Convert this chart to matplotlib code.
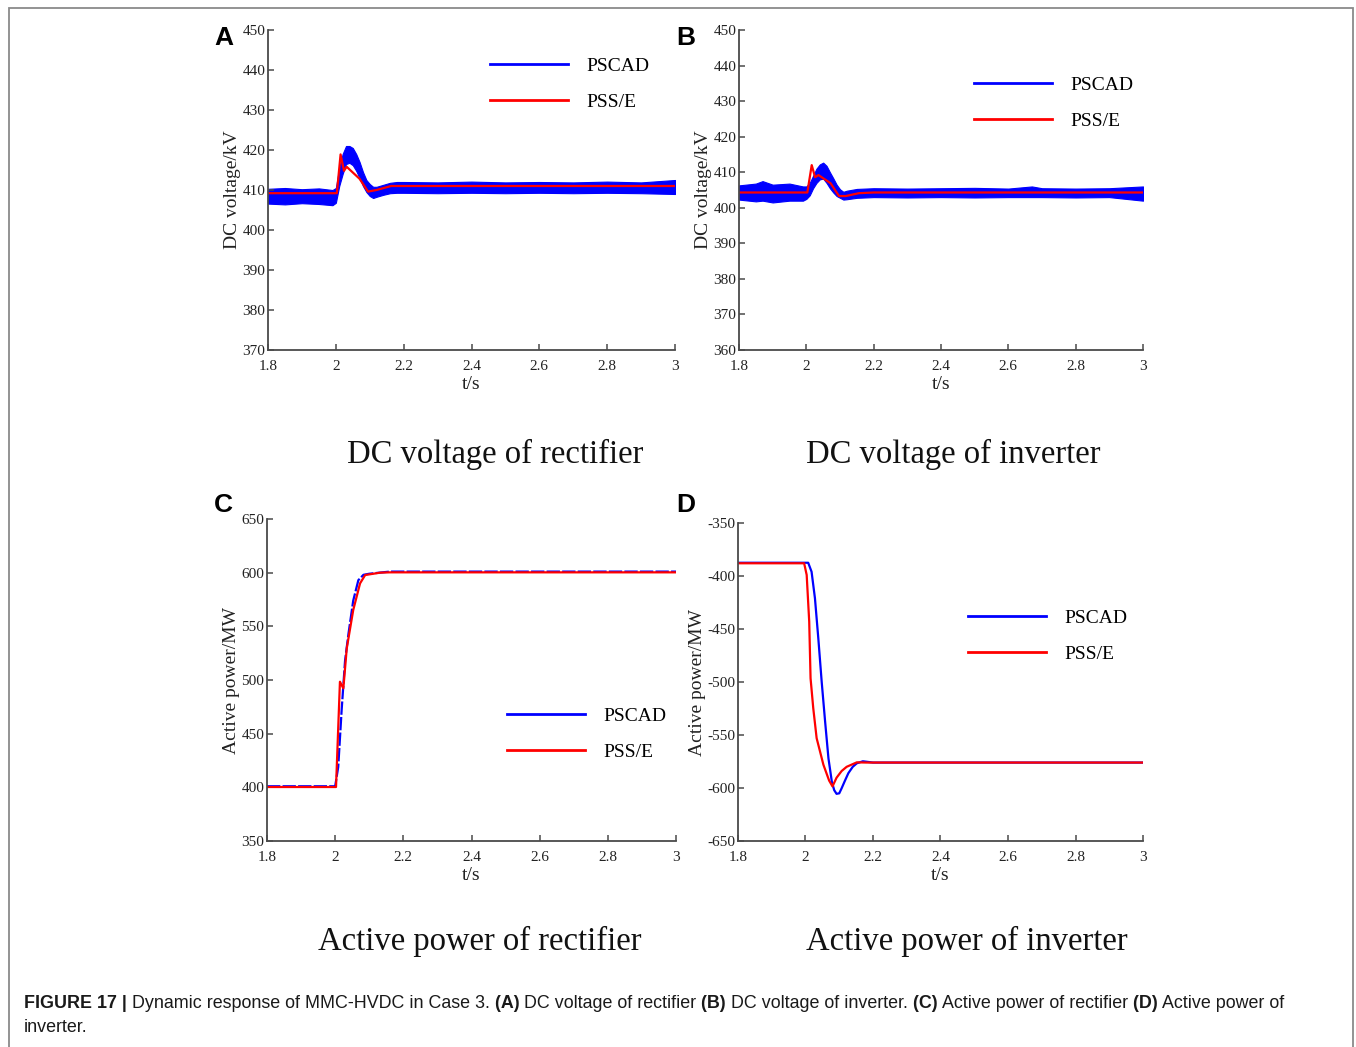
import matplotlib
matplotlib.use('Agg')
import matplotlib.pyplot as plt
from matplotlib.lines import Line2D
from matplotlib.patches import Rectangle

plt.rcParams['font.family'] = 'Liberation Serif'
plt.rcParams['axes.unicode_minus'] = False

# ---- data ----
# (A) DC voltage of rectifier, PSCAD shown as a noisy band (lower / upper envelope)
a_band_t = [1.80, 1.85, 1.90, 1.95, 1.99, 2.00, 2.01, 2.02, 2.03, 2.04, 2.05, 2.06, 2.07,
            2.08, 2.09, 2.10, 2.11, 2.12, 2.14, 2.16, 2.18, 2.20, 2.30, 2.40, 2.50, 2.60,
            2.70, 2.80, 2.90, 3.00]
a_band_lo = [406.6, 406.4, 406.7, 406.5, 406.2, 406.8, 411.0, 414.0, 416.5, 416.8, 416.2, 414.8,
             413.0, 411.0, 409.5, 408.5, 408.0, 408.3, 408.8, 409.2, 409.3, 409.3, 409.2, 409.3,
             409.2, 409.3, 409.2, 409.3, 409.2, 409.0]
a_band_hi = [410.3, 410.5, 410.2, 410.4, 410.0, 410.5, 415.5, 419.0, 421.0, 421.0, 420.5, 419.0,
             417.0, 414.5, 412.5, 411.5, 410.8, 410.8, 411.3, 411.8, 412.0, 412.0, 411.9, 412.1,
             411.9, 412.0, 411.9, 412.1, 411.9, 412.5]
a_red_t = [1.80, 2.003, 2.014, 2.024, 2.032, 2.070, 2.095, 2.120, 2.163, 3.00]
a_red_v = [409.2, 409.2, 418.9, 414.8, 415.8, 412.8, 409.6, 410.0, 411.0, 411.0]

# (B) DC voltage of inverter
b_band_t = [1.80, 1.85, 1.87, 1.90, 1.95, 1.99, 2.00, 2.01, 2.02, 2.03, 2.04, 2.05, 2.06,
            2.07, 2.08, 2.09, 2.10, 2.11, 2.12, 2.15, 2.20, 2.30, 2.40, 2.50, 2.60, 2.67,
            2.70, 2.80, 2.90, 3.00]
b_band_lo = [402.3, 401.8, 402.0, 401.5, 402.0, 402.0, 402.5, 403.5, 405.5, 407.0, 408.0, 408.2,
             407.0, 405.5, 404.3, 403.3, 402.8, 402.3, 402.4, 402.8, 403.0, 402.9, 403.0, 402.9,
             403.0, 403.0, 403.0, 402.9, 403.0, 402.0]
b_band_hi = [406.3, 406.8, 407.5, 406.5, 406.8, 406.0, 406.0, 407.0, 409.0, 411.0, 412.2, 412.7,
             411.8, 410.0, 408.3, 406.5, 405.2, 404.5, 404.8, 405.3, 405.5, 405.4, 405.5, 405.6,
             405.4, 406.0, 405.5, 405.4, 405.5, 406.0]
b_red_t = [1.80, 2.003, 2.016, 2.026, 2.036, 2.072, 2.097, 2.117, 2.156, 2.20, 3.00]
b_red_v = [404.3, 404.3, 412.0, 408.6, 409.2, 406.9, 403.3, 403.3, 404.1, 404.3, 404.3]

# (C) Active power of rectifier
c_blue_t = [1.80, 2.000, 2.009, 2.019, 2.029, 2.039, 2.053, 2.068, 2.083, 2.100, 2.130, 2.160, 3.00]
c_blue_v = [401.0, 401.0, 419.0, 472.0, 518.0, 543.0, 574.0, 593.0, 598.0, 599.0, 600.0, 601.0, 601.0]
c_red_t = [1.80, 2.0025, 2.014, 2.024, 2.034, 2.053, 2.073, 2.088, 2.132, 2.160, 3.00]
c_red_v = [400.3, 400.3, 498.4, 492.2, 529.5, 565.2, 590.0, 597.8, 600.0, 600.3, 600.3]

# (D) Active power of inverter
d_blue_t = [1.80, 2.008, 2.018, 2.028, 2.038, 2.048, 2.058, 2.068, 2.078, 2.085, 2.092, 2.100,
            2.107, 2.117, 2.127, 2.140, 2.152, 2.170, 2.200, 3.00]
d_blue_v = [-387.5, -387.5, -396.0, -421.0, -459.0, -500.0, -537.0, -572.0, -594.0, -602.0,
            -605.5, -605.0, -600.3, -593.0, -586.0, -580.0, -576.7, -574.8, -576.0, -576.0]
d_red_t = [1.80, 1.996, 2.0035, 2.011, 2.015, 2.023, 2.033, 2.053, 2.070, 2.080, 2.092,
           2.107, 2.122, 2.152, 2.180, 3.00]
d_red_v = [-388.0, -388.0, -399.0, -443.0, -496.5, -524.8, -553.0, -578.0, -593.0, -598.5,
           -590.3, -584.0, -580.0, -575.8, -576.0, -576.0]

x_ticks = [1.8, 2.0, 2.2, 2.4, 2.6, 2.8, 3.0]
x_ticklabels = ['1.8', '2', '2.2', '2.4', '2.6', '2.8', '3']
series_names = ['PSCAD', 'PSS/E']

BLUE = '#0000ff'
RED = '#ff0000'
AX_COL = '#4a4a4a'

W, H = 1356, 1047
fig = plt.figure(figsize=(W / 100, H / 100), dpi=100)


def box(l, t, r, b):
    return [l / W, 1 - b / H, (r - l) / W, (b - t) / H]


def style(ax, ylim, yticks, ylabel):
    ax.set_xlim(1.8, 3.0)
    ax.set_xticks(x_ticks)
    ax.set_xticklabels(x_ticklabels)
    ax.set_ylim(*ylim)
    ax.set_yticks(yticks)
    ax.set_yticklabels([str(v) for v in yticks])
    for s in ['top', 'right']:
        ax.spines[s].set_visible(False)
    for s in ['left', 'bottom']:
        ax.spines[s].set_color(AX_COL)
        ax.spines[s].set_linewidth(1.3)
    ax.tick_params(direction='in', length=4, width=1.1, color=AX_COL,
                   labelsize=11, labelcolor='#222222')
    ax.tick_params(axis='x', pad=7)
    ax.tick_params(axis='y', pad=2)
    ax.set_xlabel('t/s', fontsize=14, labelpad=2, color='#222222')
    ax.set_ylabel(ylabel, fontsize=14, labelpad=1, color='#222222')


def legend(ax, x, y):
    handles = [Line2D([], [], color=BLUE, lw=2), Line2D([], [], color=RED, lw=2)]
    ax.legend(handles, series_names, loc='center left', bbox_to_anchor=(x, y),
              frameon=False, fontsize=14, handlelength=4.0, handletextpad=0.95,
              labelspacing=0.95, borderpad=0, borderaxespad=0)


# (A)
axA = fig.add_axes(box(268, 30, 675, 350))
axA.fill_between(a_band_t, a_band_lo, a_band_hi, color=BLUE, lw=0.8)
axA.plot(a_red_t, a_red_v, color=RED, lw=1.6)
style(axA, (370, 450), list(range(370, 451, 10)), 'DC voltage/kV')
legend(axA, 0.545, 0.831)

# (B)
axB = fig.add_axes(box(739, 30, 1143, 350))
axB.fill_between(b_band_t, b_band_lo, b_band_hi, color=BLUE, lw=0.8)
axB.plot(b_red_t, b_red_v, color=RED, lw=1.6)
style(axB, (360, 450), list(range(360, 451, 10)), 'DC voltage/kV')
legend(axB, 0.582, 0.772)

# (C)
axC = fig.add_axes(box(267, 519, 676, 841))
axC.plot(c_blue_t, c_blue_v, color=BLUE, lw=1.6, ls=(0, (6, 1)))
axC.plot(c_red_t, c_red_v, color=RED, lw=1.6)
style(axC, (350, 650), list(range(350, 651, 50)), 'Active power/MW')
legend(axC, 0.587, 0.331)

# (D)
axD = fig.add_axes(box(738, 523, 1143, 841))
axD.plot(d_blue_t, d_blue_v, color=BLUE, lw=1.6)
axD.plot(d_red_t, d_red_v, color=RED, lw=1.6)
style(axD, (-650, -350), list(range(-650, -349, 50)), 'Active power/MW')
legend(axD, 0.568, 0.645)

# panel letters
for letter, x, y in [('A', 224, 38), ('B', 686, 38), ('C', 223, 505), ('D', 686, 505)]:
    fig.text(x / W, 1 - y / H, letter, ha='center', va='center', fontsize=19,
             fontweight='bold', family='Liberation Sans')

# sub-titles below panels
for txt, x, y in [('DC voltage of rectifier', 495, 454), ('DC voltage of inverter', 953, 454),
                  ('Active power of rectifier', 480, 941), ('Active power of inverter', 967, 941)]:
    fig.text(x / W, 1 - y / H, txt, ha='center', va='center', fontsize=23.5, color='#111111')

# frame around the figure
fig.patches.append(Rectangle((8.5 / W, -0.05), (1353 - 8.5) / W, 1.05 - 8.5 / H,
                             transform=fig.transFigure, fill=False,
                             edgecolor='#8a8a8a', lw=1.3))

# caption, mixed bold / normal
segments = [('FIGURE 17 |', 'bold'), (' Dynamic response of MMC-HVDC in Case 3.', 'normal'),
            (' (A)', 'bold'), (' DC voltage of rectifier', 'normal'),
            (' (B)', 'bold'), (' DC voltage of inverter.', 'normal'),
            (' (C)', 'bold'), (' Active power of rectifier', 'normal'),
            (' (D)', 'bold'), (' Active power of', 'normal')]
renderer = fig.canvas.get_renderer()
xpos = 24
for s, wt in segments:
    t = fig.text(xpos / W, 1 - 1003 / H, s, ha='left', va='center', fontsize=12.9,
                 fontweight=wt, family='Liberation Sans', color='#1a1a1a')
    xpos += t.get_window_extent(renderer).width
fig.text(24 / W, 1 - 1028 / H, 'inverter.', ha='left', va='center', fontsize=12.9,
         family='Liberation Sans', color='#1a1a1a')

fig.savefig('out.png', dpi=100)
